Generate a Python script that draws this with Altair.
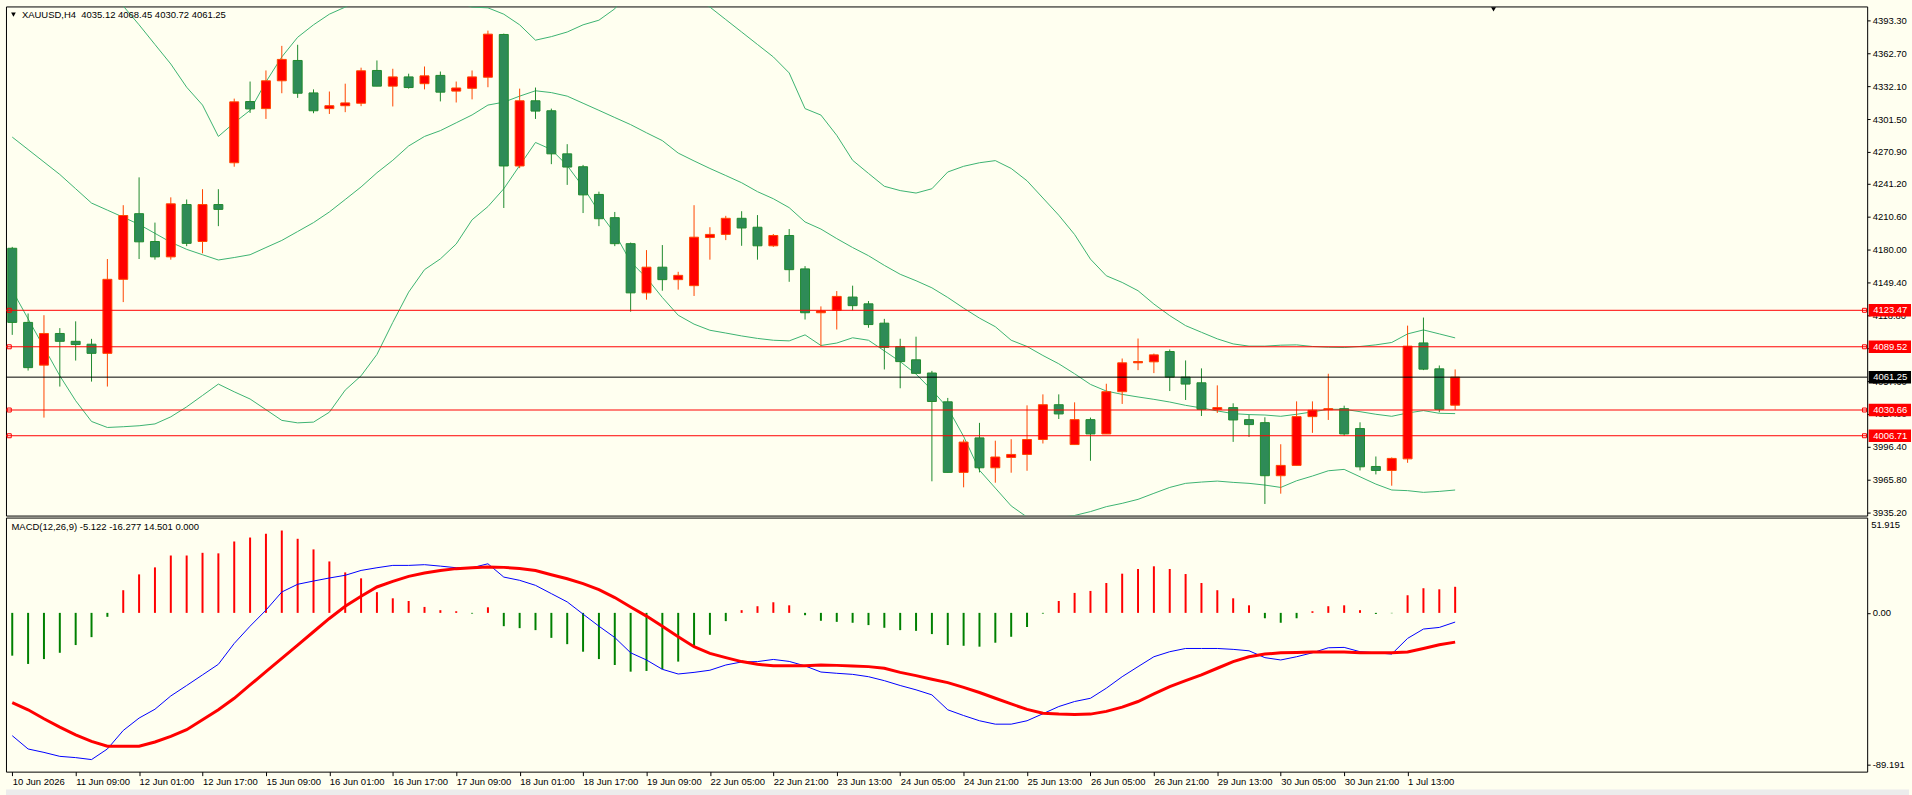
import altair as alt
import pandas as pd

# ---------------- data ----------------
opens = [4181.2, 4112.2, 4072.4, 4101.9, 4094.6, 4091.9, 4083.4, 4152.3, 4213.4, 4187.5,
         4173.2, 4221.9, 4187.5, 4221.9, 4260.8, 4317.8, 4311.2, 4337.1, 4356.0, 4325.8,
         4311.2, 4313.9, 4316.2, 4346.7, 4332.1, 4340.7, 4334.4, 4342.1, 4327.5, 4330.1,
         4340.4, 4380.2, 4257.8, 4318.5, 4309.2, 4269.1, 4257.1, 4231.3, 4209.7, 4185.5,
         4139.7, 4163.6, 4152.0, 4146.4, 4191.2, 4194.1, 4209.1, 4200.8, 4183.5, 4193.1,
         4162.0, 4121.2, 4123.5, 4135.8, 4129.5, 4111.5, 4089.7, 4077.4, 4065.1, 4038.3,
         3972.6, 4004.7, 3976.9, 3986.5, 3989.3, 4003.2, 4035.6, 3998.5, 4021.7, 4008.4,
         4047.7, 4074.6, 4075.5, 4085.1, 4061.3, 4056.0, 4031.3, 4032.9, 4021.7, 4018.9,
         3969.5, 3979.1, 4024.5, 4031.0, 4031.9, 4013.4, 3978.1, 3974.4, 3985.2, 4093.1,
         4069.0, 4035.12]
highs = [4182.5, 4120.5, 4118.9, 4106.9, 4113.2, 4096.9, 4171.2, 4221.3, 4247.2, 4205.1,
         4228.6, 4226.6, 4236.2, 4236.2, 4320.5, 4336.4, 4346.7, 4369.6, 4370.6, 4329.1,
         4327.1, 4334.4, 4349.3, 4356.0, 4348.3, 4343.7, 4350.4, 4345.7, 4336.4, 4346.7,
         4383.8, 4381.0, 4329.8, 4330.8, 4311.2, 4278.1, 4258.8, 4233.9, 4215.0, 4186.5,
         4179.5, 4184.2, 4159.3, 4221.3, 4200.8, 4211.4, 4215.7, 4212.1, 4194.5, 4199.1,
         4164.6, 4127.1, 4141.4, 4146.4, 4132.1, 4115.5, 4097.0, 4098.9, 4067.1, 4041.9,
         4003.1, 4018.7, 4002.1, 4003.5, 4035.0, 4045.2, 4045.2, 4037.8, 4023.6, 4055.1,
         4078.6, 4097.2, 4083.2, 4087.0, 4076.8, 4069.4, 4053.6, 4036.9, 4026.0, 4023.9,
         3998.8, 4038.7, 4038.7, 4064.4, 4034.7, 4019.2, 3987.4, 3986.5, 4109.2, 4116.7,
         4072.1, 4068.45]
lows = [4100.6, 4067.4, 4023.6, 4052.5, 4076.7, 4057.1, 4052.5, 4131.1, 4171.2, 4170.6,
        4170.6, 4183.2, 4176.5, 4201.8, 4257.1, 4307.2, 4301.6, 4325.5, 4321.2, 4306.9,
        4306.2, 4307.9, 4313.5, 4332.1, 4313.2, 4329.8, 4329.1, 4317.9, 4316.9, 4319.8,
        4331.1, 4218.7, 4255.8, 4301.6, 4259.5, 4240.2, 4214.0, 4201.8, 4183.2, 4122.2,
        4133.4, 4141.7, 4142.7, 4136.8, 4170.6, 4188.8, 4183.5, 4170.6, 4182.5, 4150.0,
        4114.9, 4090.3, 4105.6, 4123.5, 4107.2, 4068.4, 4050.9, 4064.8, 3964.3, 3972.6,
        3958.7, 3972.6, 3963.0, 3972.3, 3974.1, 3999.5, 4022.3, 3998.5, 3983.4, 4008.4,
        4036.3, 4067.8, 4065.0, 4048.3, 4040.0, 4025.1, 4027.9, 4001.0, 4005.6, 3943.2,
        3952.8, 3979.1, 4009.4, 4021.4, 4006.6, 3974.4, 3970.7, 3960.2, 3981.5, 4067.8,
        4028.5, 4030.72]
closes = [4112.2, 4070.1, 4101.9, 4094.6, 4091.6, 4083.4, 4152.3, 4211.7, 4187.2, 4173.2,
          4222.6, 4185.8, 4221.9, 4217.4, 4317.5, 4310.9, 4337.1, 4357.0, 4325.5, 4309.2,
          4313.9, 4316.5, 4346.4, 4332.1, 4340.7, 4330.8, 4341.7, 4326.5, 4330.4, 4340.7,
          4380.5, 4257.8, 4318.5, 4308.9, 4269.1, 4256.8, 4230.9, 4208.7, 4185.5, 4139.7,
          4163.6, 4152.0, 4156.0, 4191.5, 4194.1, 4209.1, 4200.1, 4183.5, 4193.1, 4161.3,
          4121.2, 4122.8, 4136.4, 4127.8, 4110.2, 4089.0, 4075.7, 4064.8, 4038.6, 3972.6,
          4000.8, 3976.9, 3986.9, 3989.3, 4003.2, 4035.6, 4027.0, 4021.7, 4008.4, 4047.7,
          4074.6, 4075.8, 4082.0, 4061.3, 4054.8, 4031.3, 4032.9, 4021.4, 4017.1, 3969.5,
          3979.1, 4024.5, 4030.4, 4031.9, 4008.4, 3977.8, 3974.4, 3985.6, 4090.1, 4068.7,
          4031.3, 4061.25]

bb_upper = [4427, 4431, 4434, 4437, 4434, 4427, 4419, 4406.7, 4389.2, 4370.9,
            4352.7, 4331.1, 4314.5, 4285.3, 4298.0, 4309.6, 4336.1, 4359.3, 4377.6, 4389.2,
            4399.1, 4405.7, 4414.1, 4420.6, 4414.0, 4412.4, 4409.3, 4410.1, 4410.8, 4405.7,
            4405.0, 4399.1, 4389.2, 4374.9, 4378.2, 4382.5, 4389.2, 4393.5, 4404.1, 4424.0,
            4423.7, 4427.4, 4420.7, 4414.4, 4405.7, 4394.1, 4382.5, 4370.9, 4359.3, 4344.4,
            4311.2, 4305.2, 4286.3, 4263.1, 4250.9, 4238.9, 4234.9, 4232.6, 4236.6, 4252.2,
            4257.5, 4260.8, 4262.8, 4255.5, 4244.0, 4228.0, 4212.0, 4194.0, 4171.1, 4155.6,
            4149.4, 4141.7, 4129.3, 4118.5, 4109.2, 4103.0, 4096.9, 4092.2, 4090.1, 4090.1,
            4091.0, 4091.3, 4089.8, 4089.1, 4088.8, 4089.8, 4091.3, 4093.5, 4101.5, 4105.2,
            4101.5, 4097.8]
bb_middle = [4284.7, 4273.1, 4261.5, 4249.9, 4236.6, 4223.3, 4216.7, 4210.1, 4203.4, 4195.1,
             4186.8, 4180.2, 4175.2, 4170.3, 4172.6, 4175.2, 4181.9, 4188.5, 4196.8, 4205.1,
             4215.0, 4226.6, 4238.3, 4251.5, 4263.1, 4276.4, 4285.3, 4290.7, 4298.0, 4305.3,
             4314.5, 4317.2, 4322.8, 4327.8, 4326.1, 4322.8, 4316.2, 4309.6, 4302.9, 4296.3,
             4288.7, 4281.4, 4269.8, 4262.5, 4255.5, 4248.9, 4242.2, 4233.9, 4227.3, 4219.0,
             4205.7, 4199.1, 4190.2, 4181.9, 4174.3, 4165.3, 4157.0, 4151.0, 4144.4, 4135.4,
             4125.5, 4116.2, 4108.2, 4095.6, 4089.8, 4081.4, 4073.7, 4064.4, 4054.5, 4048.3,
             4045.2, 4042.8, 4040.6, 4038.1, 4035.0, 4032.6, 4029.8, 4027.3, 4026.4, 4026.0,
             4024.8, 4026.7, 4028.9, 4031.3, 4031.3, 4029.1, 4026.7, 4024.8, 4027.9, 4030.1,
             4027.6, 4027.3]
bb_lower = [4142.1, 4115.5, 4089.0, 4062.5, 4039.3, 4020.0, 4014.4, 4015.1, 4016.0, 4017.7,
            4024.3, 4033.6, 4044.2, 4054.8, 4047.6, 4040.9, 4031.0, 4021.0, 4018.7, 4019.4,
            4028.6, 4049.2, 4062.5, 4082.4, 4112.2, 4140.4, 4161.3, 4171.3, 4185.2, 4207.7,
            4220.0, 4236.6, 4258.2, 4279.7, 4273.1, 4258.2, 4238.3, 4215.0, 4195.1, 4168.6,
            4153.7, 4135.4, 4118.9, 4110.6, 4104.9, 4102.3, 4099.6, 4097.3, 4095.6, 4095.0,
            4100.6, 4090.7, 4093.0, 4097.9, 4095.6, 4085.7, 4075.7, 4064.1, 4049.2, 4032.6,
            4006.1, 3974.6, 3958.0, 3941.4, 3931.0, 3930.0, 3930.5, 3932.5, 3936.1, 3940.7,
            3943.8, 3947.5, 3953.1, 3958.6, 3962.4, 3963.6, 3964.5, 3963.3, 3962.4, 3960.8,
            3958.6, 3964.8, 3969.2, 3974.1, 3975.4, 3968.5, 3961.7, 3956.2, 3955.6, 3954.0,
            3954.9, 3956.2]

macd_hist = [-23.8, -28.4, -25.7, -22.2, -17.9, -13.5, -2.2, 12.6, 21.4, 25.3,
             31.9, 31.9, 33.4, 33.1, 39.7, 41.9, 44.0, 45.8, 41.2, 35.3,
             28.6, 22.5, 19.2, 11.5, 8.1, 6.6, 3.3, 1.5, 0.9, -0.4,
             3.1, -7.4, -8.5, -9.6, -13.9, -17.4, -21.6, -25.7, -29.0, -32.7,
             -32.3, -31.4, -27.1, -18.8, -12.2, -4.6, 1.5, 3.7, 5.9, 4.2,
             -1.3, -4.4, -5.0, -5.5, -6.8, -8.3, -9.6, -10.0, -11.8, -17.9,
             -18.3, -18.8, -16.6, -13.3, -7.8, -0.4, 6.6, 11.1, 12.2, 16.6,
             21.8, 24.4, 25.9, 24.4, 21.6, 16.6, 12.6, 8.1, 4.2, -3.0,
             -5.5, -3.0, 0.9, 3.7, 4.2, 1.5, -0.6, -0.2, 9.8, 13.7,
             13.1, 14.501]
macd_main = [-68.3, -75.7, -77.6, -79.8, -80.5, -81.6, -75.7, -65.4, -58.5, -53.6,
             -46.2, -40.4, -34.5, -28.6, -17.0, -7.4, 1.5, 11.6, 15.9, 17.7,
             19.4, 20.9, 23.6, 25.1, 26.4, 26.4, 26.8, 26.0, 25.1, 25.1,
             27.3, 19.9, 18.1, 15.3, 10.7, 6.1, -0.7, -7.4, -13.7, -22.2,
             -26.2, -31.4, -34.0, -33.1, -31.9, -29.0, -27.3, -27.1, -25.9, -27.0,
             -29.5, -32.9, -33.6, -34.2, -35.5, -37.7, -40.4, -42.8, -45.6, -53.9,
             -57.1, -60.0, -61.9, -61.9, -60.0, -56.1, -52.1, -49.3, -47.5, -41.9,
             -35.5, -29.9, -24.4, -21.6, -19.8, -19.8, -19.8, -20.3, -21.1, -24.9,
             -26.2, -24.4, -22.2, -19.4, -19.2, -21.6, -22.2, -22.9, -14.2, -9.0,
             -8.1, -5.122]
macd_signal = [-49.9, -53.9, -58.9, -63.5, -67.8, -71.5, -74.2, -74.2, -74.2, -71.8,
               -68.7, -65.0, -59.5, -53.9, -47.5, -40.1, -32.7, -25.3, -17.9, -10.5,
               -3.1, 3.7, 9.2, 14.4, 17.5, 20.3, 22.2, 23.6, 24.6, 25.1,
               25.5, 25.3, 24.7, 23.6, 21.2, 19.0, 16.3, 12.9, 8.5, 3.3,
               -1.8, -7.4, -13.3, -18.8, -22.5, -24.9, -27.1, -28.6, -29.4, -29.4,
               -29.4, -29.0, -29.2, -29.5, -29.9, -30.8, -33.1, -34.9, -36.9, -38.8,
               -41.4, -44.3, -47.5, -50.6, -53.7, -55.8, -56.3, -56.5, -56.3, -54.8,
               -52.4, -49.3, -45.1, -41.0, -37.7, -34.5, -30.8, -27.1, -24.4, -22.9,
               -22.2, -22.0, -21.8, -21.8, -21.8, -22.2, -22.2, -22.2, -21.8, -19.8,
               -17.7, -16.277]

x_labels = ["10 Jun 2026", "11 Jun 09:00", "12 Jun 01:00", "12 Jun 17:00", "15 Jun 09:00",
            "16 Jun 01:00", "16 Jun 17:00", "17 Jun 09:00", "18 Jun 01:00", "18 Jun 17:00",
            "19 Jun 09:00", "22 Jun 05:00", "22 Jun 21:00", "23 Jun 13:00", "24 Jun 05:00",
            "24 Jun 21:00", "25 Jun 13:00", "26 Jun 05:00", "26 Jun 21:00", "29 Jun 13:00",
            "30 Jun 05:00", "30 Jun 21:00", "1 Jul 13:00"]
price_ticks = [4393.30, 4362.70, 4332.10, 4301.50, 4270.90, 4241.20, 4210.60, 4180.00,
               4149.40, 4118.80, 4088.20, 4057.60, 4027.00, 3996.40, 3965.80, 3935.20]
level_prices = [4123.47, 4089.52, 4061.25, 4030.66, 4006.71]
level_kinds = ["line", "line", "last", "line", "line"]

header_text = "XAUUSD,H4\u00a0 4035.12 4068.45 4030.72 4061.25"
macd_text = "MACD(12,26,9) -5.122 -16.277 14.501 0.000"
macd_top_label = "51.915"
macd_bottom_label = "-89.191"

# ---------------- styling ----------------
IVORY = "#FFFFF0"
FONT = "Liberation Sans"
FS = 9.5
UP_FILL, UP_LINE = "#FF0000", "#FF4500"
DN_FILL, DN_LINE = "#2E8B57", "#1F8A2E"
BAND = "#3CB371"

W, H1, H2 = 1868, 511, 255
x_scale = alt.Scale(domain=[-0.081, 116.67], nice=False, zero=False)
y_scale = alt.Scale(domain=[3932.4, 4406.3], nice=False, zero=False)
m_scale = alt.Scale(domain=[-88.3, 53.0], nice=False, zero=False)

n = len(opens)
candles = pd.DataFrame({"i": list(range(n)), "open": opens, "high": highs,
                        "low": lows, "close": closes})
bands = pd.concat([
    pd.DataFrame({"i": list(range(n)), "v": bb_upper, "band": "upper"}),
    pd.DataFrame({"i": list(range(n)), "v": bb_middle, "band": "middle"}),
    pd.DataFrame({"i": list(range(n)), "v": bb_lower, "band": "lower"}),
])
levels = pd.DataFrame({"price": level_prices, "kind": level_kinds})
macd = pd.DataFrame({"i": list(range(n)), "hist": macd_hist, "main": macd_main,
                     "signal": macd_signal})
one = pd.DataFrame({"t": [header_text]})
one_m = pd.DataFrame({"t": [macd_text]})
one_top = pd.DataFrame({"t": [macd_top_label]})

price_axis = alt.Axis(orient="right", values=price_ticks, format=".2f", title=None,
                      grid=False, domain=False, tickSize=3, tickColor="black",
                      labelColor="black", labelFont=FONT, labelFontSize=FS,
                      labelPadding=2, labelOverlap=False)
X = alt.X("i:Q", scale=x_scale, axis=None)


def PY(field):
    return alt.Y(field, scale=y_scale, axis=price_axis)


up = alt.datum.close >= alt.datum.open

wicks = alt.Chart(candles).mark_rule(strokeWidth=1).encode(
    x=X, y=PY("low:Q"), y2="high:Q",
    color=alt.condition(up, alt.value(UP_LINE), alt.value(DN_LINE)))
bodies = alt.Chart(candles).mark_bar(size=9, strokeWidth=1).encode(
    x=X, y=PY("open:Q"), y2="close:Q",
    fill=alt.condition(up, alt.value(UP_FILL), alt.value(DN_FILL)),
    stroke=alt.condition(up, alt.value(UP_LINE), alt.value(DN_LINE)))
band_lines = alt.Chart(bands).mark_line(color=BAND, strokeWidth=1, clip=True).encode(
    x=X, y=PY("v:Q"), detail="band:N")
is_last = alt.datum.kind == "last"
hlines = alt.Chart(levels).mark_rule(strokeWidth=1).encode(
    y=PY("price:Q"),
    color=alt.condition(is_last, alt.value("black"), alt.value("#FF0000")))
marks_r = alt.Chart(levels).transform_filter(alt.datum.kind == "line").mark_point(
    shape="square", filled=False, size=16, color="#FF0000", strokeWidth=1, opacity=1).encode(
    x=alt.value(W - 2.7), y=PY("price:Q"))
marks_l = alt.Chart(levels).transform_filter(alt.datum.kind == "line").mark_point(
    shape="square", filled=False, size=16, color="#FF0000", strokeWidth=1, opacity=1).encode(
    x=alt.value(3.3), y=PY("price:Q"))
boxes = alt.Chart(levels).transform_calculate(
    top="datum.price + 5.8", bot="datum.price - 5.8").mark_rect().encode(
    x=alt.value(W + 1.5), x2=alt.value(W + 44), y=PY("top:Q"), y2="bot:Q",
    color=alt.condition(is_last, alt.value("black"), alt.value("#FF0000")))
box_text = alt.Chart(levels).mark_text(align="left", baseline="middle", color="white",
                                       font=FONT, fontSize=FS).encode(
    x=alt.value(W + 6), y=PY("price:Q"), text=alt.Text("price:Q", format=".2f"))
title_tri = alt.Chart(one).mark_point(shape="triangle-down", filled=True, color="black",
                                      size=22, opacity=1).encode(
    x=alt.value(7.5), y=alt.value(8.2))
title_txt = alt.Chart(one).mark_text(align="left", baseline="middle", color="black",
                                     font=FONT, fontSize=FS).encode(
    x=alt.value(16), y=alt.value(8.7), text="t:N")
shift_tri = alt.Chart(one).mark_point(shape="triangle-down", filled=True, color="black",
                                      size=24, opacity=1).encode(
    x=alt.value(1493), y=alt.value(3))

price_panel = alt.layer(
    band_lines, wicks, bodies, hlines, marks_l, marks_r, boxes, box_text,
    title_tri, title_txt, shift_tri
).properties(width=W, height=H1)

# ---------------- MACD panel ----------------
label_expr = "[" + ",".join("'" + s + "'" for s in x_labels) + "][round(datum.value/4)]"
x_axis = alt.Axis(values=list(range(0, 4 * len(x_labels), 4)), labelExpr=label_expr,
                  title=None, grid=False, domain=False, tickSize=4, tickColor="black",
                  labelColor="black", labelFont=FONT, labelFontSize=FS,
                  labelAlign="left", labelPadding=1, labelFlush=False,
                  labelOverlap=False, labelBound=False)
macd_axis = alt.Axis(orient="right", values=[-84.4, 0], title=None, grid=False,
                     domain=False, tickSize=3, tickColor="black", labelColor="black",
                     labelFont=FONT, labelFontSize=FS, labelPadding=2,
                     labelExpr="datum.value == 0 ? '0.00' : '" + macd_bottom_label + "'")
MX = alt.X("i:Q", scale=x_scale, axis=x_axis)


def MY(field):
    return alt.Y(field, scale=m_scale, axis=macd_axis)


hist = alt.Chart(macd).mark_bar(size=2).encode(
    x=MX, y=MY("hist:Q"), y2=alt.datum(0),
    color=alt.condition(alt.datum.hist >= 0, alt.value("#FF0000"), alt.value("#008000")))
main_line = alt.Chart(macd).mark_line(color="#0000FF", strokeWidth=1).encode(
    x=MX, y=MY("main:Q"))
sig_line = alt.Chart(macd).mark_line(color="#FF0000", strokeWidth=3).encode(
    x=MX, y=MY("signal:Q"))
macd_title = alt.Chart(one_m).mark_text(align="left", baseline="middle", color="black",
                                        font=FONT, fontSize=FS).encode(
    x=alt.value(5.5), y=alt.value(9), text="t:N")
macd_top = alt.Chart(one_top).mark_text(align="left", baseline="middle", color="black",
                                        font=FONT, fontSize=FS).encode(
    x=alt.value(W + 4), y=alt.value(7), text="t:N")
bottom_band = alt.Chart(one).mark_rect(color="#ECECEC").encode(
    x=alt.value(0), x2=alt.value(1910), y=alt.value(H2 + 18), y2=alt.value(H2 + 26))

macd_panel = alt.layer(
    hist, main_line, sig_line, macd_title, macd_top, bottom_band
).properties(width=W, height=H2)

chart = alt.vconcat(price_panel, macd_panel, spacing=2, bounds="flush").properties(
    background=IVORY,
    padding={"left": 4, "top": 4, "right": 0, "bottom": 0},
).configure_view(stroke="black", strokeWidth=1, fill=IVORY)

chart.save("out.html", embed_options={"renderer": "svg", "actions": False})
